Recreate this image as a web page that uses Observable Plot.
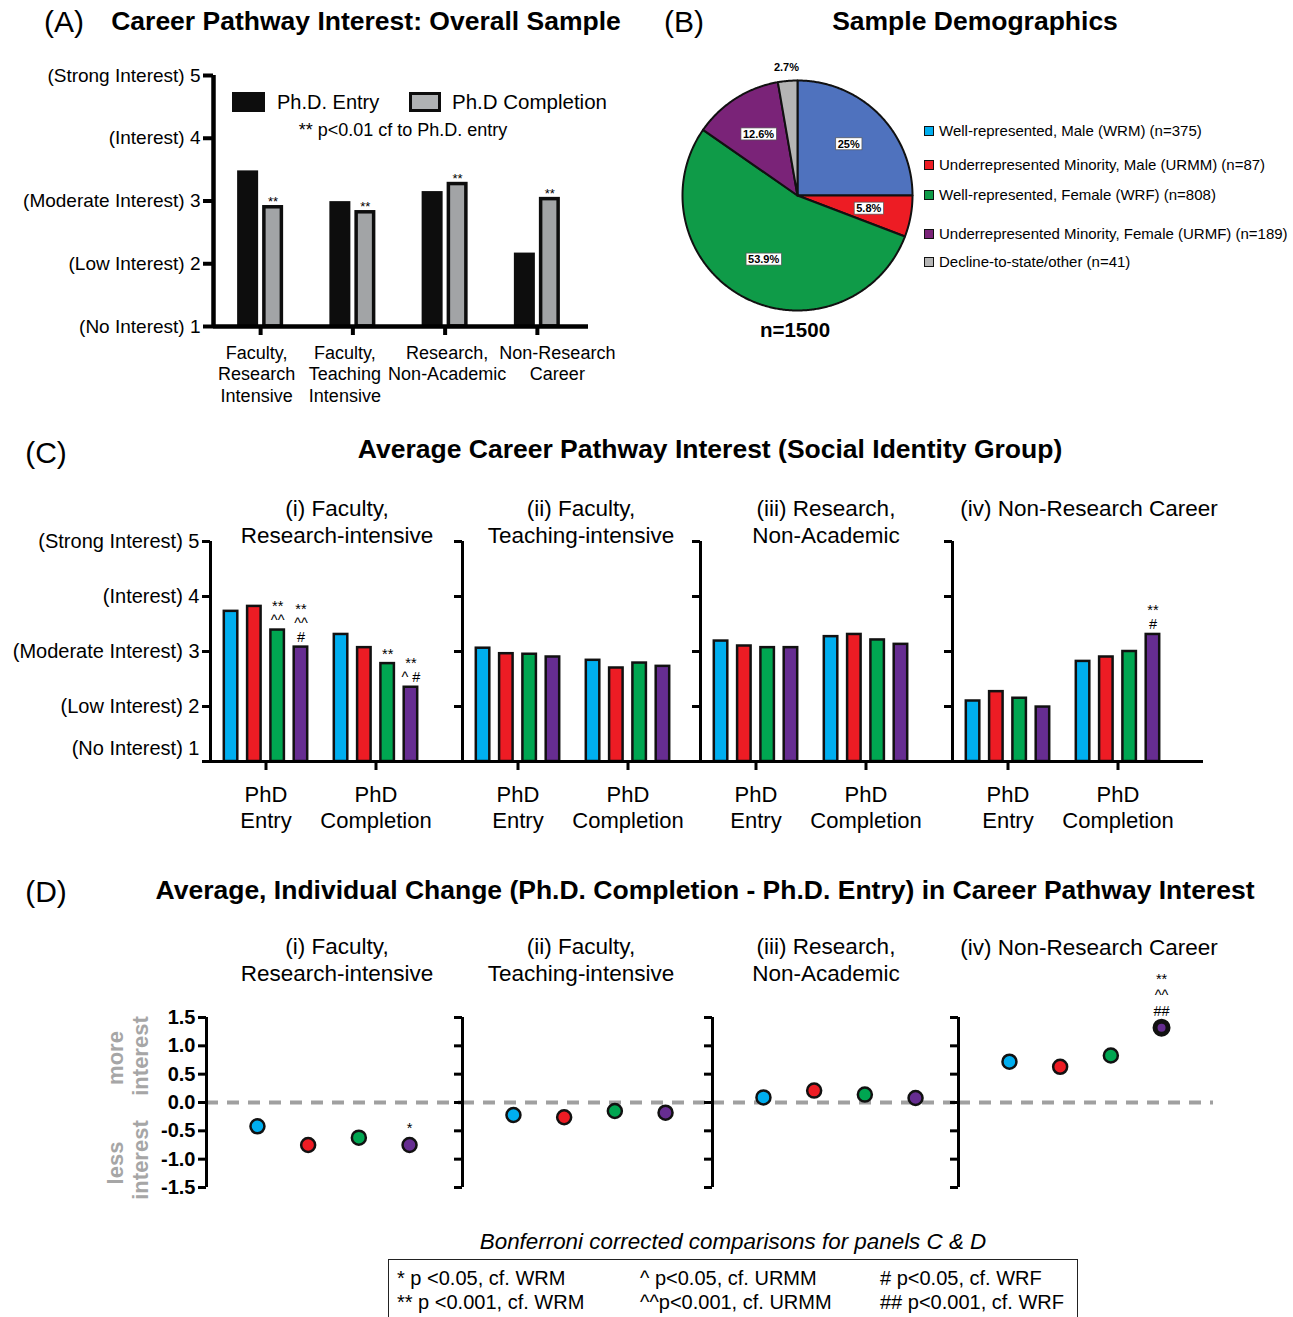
<!DOCTYPE html>
<html><head><meta charset="utf-8">
<script src="https://cdn.jsdelivr.net/npm/d3@7"></script>
<script src="https://cdn.jsdelivr.net/npm/@observablehq/plot@0.6"></script>
<style>
body{margin:0;background:#fff;}
#root{position:relative;width:1293px;height:1317px;overflow:hidden;background:#fff;}
</style></head>
<body><div id="root"></div>
<script>
// ---------------- DATA ----------------
// Panel A: overall sample
const pathways = ["Faculty, Research Intensive", "Faculty, Teaching Intensive", "Research, Non-Academic", "Non-Research Career"];
const pathwayTicks = ["Faculty,\nResearch\nIntensive", "Faculty,\nTeaching\nIntensive", "Research,\nNon-Academic", "Non-Research\nCareer"];
const overallEntry = [3.48, 2.99, 3.15, 2.17];
const overallCompletion = [2.90, 2.82, 3.27, 3.03];
const overallSig = ["**", "**", "**", "**"];
const interestTicks = [1, 2, 3, 4, 5];
const interestLabels = ["(No Interest) 1", "(Low Interest) 2", "(Moderate Interest) 3", "(Interest) 4", "(Strong Interest) 5"];
const seriesLabels = ["Ph.D. Entry", "Ph.D Completion"];
const overallNote = "** p<0.01 cf to Ph.D. entry";

// Panel B: demographics
const demoLabels = ["Well-represented, Male (WRM) (n=375)", "Underrepresented Minority, Male (URMM) (n=87)", "Well-represented, Female (WRF) (n=808)", "Underrepresented Minority, Female (URMF) (n=189)", "Decline-to-state/other (n=41)"];
const demoCounts = [375, 87, 808, 189, 41];
const demoPct = ["25%", "5.8%", "53.9%", "12.6%", "2.7%"];
const demoTotal = "n=1500";

// Panels C & D
const subpanels = ["(i) Faculty,\nResearch-intensive", "(ii) Faculty,\nTeaching-intensive", "(iii) Research,\nNon-Academic", "(iv) Non-Research Career"];
const groups = ["WRM", "URMM", "WRF", "URMF"];
const stages = ["PhD\nEntry", "PhD\nCompletion"];
const entryMeans = [[3.73, 3.82, 3.39, 3.08], [3.06, 2.96, 2.95, 2.90], [3.19, 3.10, 3.07, 3.07], [2.10, 2.27, 2.15, 1.99]];
const completionMeans = [[3.31, 3.07, 2.78, 2.35], [2.84, 2.70, 2.79, 2.73], [3.27, 3.31, 3.21, 3.13], [2.82, 2.90, 3.00, 3.31]];
const entrySig = [["", "", "**\n^^", "**\n^^\n#"], ["", "", "", ""], ["", "", "", ""], ["", "", "", ""]];
const completionSig = [["", "", "**", "**\n^ #"], ["", "", "", ""], ["", "", "", ""], ["", "", "", "**\n#"]];
const changeMeans = [[-0.42, -0.75, -0.62, -0.75], [-0.22, -0.26, -0.15, -0.18], [0.09, 0.21, 0.14, 0.08], [0.72, 0.63, 0.83, 1.32]];
const changeSig = [["", "", "", "*"], ["", "", "", ""], ["", "", "", ""], ["", "", "", "**\n^^\n##"]];
const changeTicks = [-1.5, -1.0, -0.5, 0.0, 0.5, 1.0, 1.5];
const footnoteTitle = "Bonferroni corrected comparisons for panels C & D";
const footnotes = [["* p <0.05, cf. WRM", "** p <0.001, cf. WRM"], ["^ p<0.05, cf. URMM", "^^p<0.001, cf. URMM"], ["# p<0.05, cf. WRF", "## p<0.001, cf. WRF"]];

// ---------------- STYLE / LAYOUT ----------------
const FONT = "'Liberation Sans', Arial, Helvetica, sans-serif";
const groupColors = ["#00aeef", "#ed1c24", "#00a651", "#662d91"];
const pieColors = ["#4f72be", "#ed1c24", "#0f9b48", "#7a2378", "#b5b5b5"];
const swatchColors = ["#00aeef", "#ed1c24", "#0f9b48", "#7a2378", "#b5b5b5"];
const pathwayLabelShift = [-4, -8, 2, 20]; // horizontal nudges of panel A tick labels (px)
const plotStyle = {background: "transparent", overflow: "visible", fontFamily: FONT, color: "black"};

const root = document.getElementById("root");
function put(node, left, top) {
  node.style.position = "absolute"; node.style.left = left + "px"; node.style.top = top + "px";
  root.appendChild(node); return node;
}
function txt(str, x, y, o = {}) {
  const {size = 16, weight = "normal", italic = false, anchor = "middle", color = "black", lh = 1.2, rotate = 0} = o;
  const d = document.createElement("div");
  d.textContent = str;
  d.style.cssText = `position:absolute;left:${x}px;top:${y}px;font-family:${FONT};font-size:${size}px;font-weight:${weight};font-style:${italic ? "italic" : "normal"};color:${color};white-space:pre;line-height:${lh};text-align:${anchor === "middle" ? "center" : anchor === "end" ? "right" : "left"};`;
  const tx = anchor === "middle" ? "-50%" : anchor === "end" ? "-100%" : "0";
  d.style.transform = `translate(${tx},-50%)` + (rotate ? ` rotate(${rotate}deg)` : "");
  root.appendChild(d);
  return d;
}
function box(left, top, w, h, css) {
  const d = document.createElement("div");
  d.style.cssText = `position:absolute;left:${left}px;top:${top}px;width:${w}px;height:${h}px;box-sizing:border-box;${css}`;
  root.appendChild(d);
  return d;
}

// ---------------- PANEL A ----------------
txt("(A)", 64, 22, {size: 30});
txt("Career Pathway Interest: Overall Sample", 366, 22, {size: 26.5, weight: "bold"});
{
  const W = 600, H = 350, mL = 213, mR = 12, mT = 15, mB = 84;
  const r0 = 214, r1 = 583;
  const bw = (r1 - r0) / pathways.length, half = bw / 2;
  const rows = pathways.map((p, i) => ({pathway: p, entry: overallEntry[i], completion: overallCompletion[i], sig: overallSig[i]}));
  const A = Plot.plot({
    width: W, height: H, marginLeft: mL, marginRight: mR, marginTop: mT, marginBottom: mB,
    style: plotStyle,
    x: {type: "band", domain: pathways, range: [r0, r1], padding: 0, round: false, axis: null},
    y: {domain: [1, 5], axis: null},
    marks: [
      Plot.barY(rows, {x: "pathway", y1: 1, y2: "entry", fill: "#0d0d0d", insetLeft: half - 23, insetRight: half + 2}),
      Plot.barY(rows, {x: "pathway", y1: 1, y2: "completion", fill: "#a2a4a6", stroke: "#0d0d0d", strokeWidth: 3.5, insetLeft: half + 3.75, insetRight: half - 21.25}),
      Plot.text(rows, {x: "pathway", y: "completion", text: "sig", dx: 12.5, dy: -1, lineAnchor: "bottom", fontSize: 13}),
      Plot.ruleY([1], {strokeWidth: 4.5}),
      Plot.ruleX([pathways[0]], {y1: 1, y2: 5, strokeWidth: 4.5, dx: mL - (r0 + half)}),
      Plot.axisY({ticks: interestTicks, label: null, tickSize: 10, tickPadding: 3, strokeWidth: 4, fontSize: 19, tickFormat: v => interestLabels[v - 1]}),
      Plot.axisX({label: null, tickSize: 9, strokeWidth: 4, tickFormat: () => ""}),
      ...pathways.map((p, i) => Plot.axisX({ticks: [p], label: null, tickSize: 0, tickPadding: 17, dx: pathwayLabelShift[i], fontSize: 18, lineHeight: 1.2, tickFormat: () => pathwayTicks[i]}))
    ]
  });
  put(A, 0, 60);
  // legend
  box(232, 92, 33, 20, "background:#0d0d0d;");
  txt(seriesLabels[0], 277, 102, {size: 20, anchor: "start"});
  box(409, 92, 32, 20, "background:#b0b2b4;border:3.5px solid #0d0d0d;");
  txt(seriesLabels[1], 452, 102, {size: 20.5, anchor: "start"});
  txt(overallNote, 403, 131, {size: 18});
}

// ---------------- PANEL B ----------------
txt("(B)", 684, 22, {size: 30});
txt("Sample Demographics", 975, 22, {size: 26.5, weight: "bold"});
{
  const total = d3.sum(demoCounts);
  const arcs = d3.pie().sort(null).value(d => d)(demoCounts);
  const polys = arcs.map((a, i) => {
    const n = Math.max(2, Math.ceil((a.endAngle - a.startAngle) / 0.01));
    const pts = [{x: 0, y: 0}];
    for (let s = 0; s <= n; s++) {
      const t = a.startAngle + (a.endAngle - a.startAngle) * s / n;
      pts.push({x: Math.sin(t), y: Math.cos(t)});
    }
    pts.push({x: 0, y: 0});
    return pts;
  });
  const labels = arcs.map((a, i) => {
    const t = (a.startAngle + a.endAngle) / 2;
    const small = demoCounts[i] / total < 0.04;
    const r = small ? 1.12 : 0.63;
    return {x: r * Math.sin(t), y: r * Math.cos(t), text: demoPct[i], small};
  });
  const B = Plot.plot({
    width: 234, height: 234, margin: 2, style: plotStyle,
    x: {domain: [-1, 1], axis: null}, y: {domain: [-1, 1], axis: null},
    marks: [
      ...polys.map((pts, i) => Plot.line(pts, {x: "x", y: "y", fill: pieColors[i], stroke: "#111", strokeWidth: 2, curve: "linear"})),
      Plot.text(labels, {x: "x", y: "y", text: "text", fontSize: 11, fontWeight: "bold", fill: "black"})
    ]
  });
  put(B, 680, 78);
  const boxed = new Set(labels.filter(d => !d.small).map(d => d.text));
  d3.select(B).selectAll("text").each(function () {
    if (!boxed.has(this.textContent)) return;
    const b = this.getBBox();
    const rect = document.createElementNS("http://www.w3.org/2000/svg", "rect");
    rect.setAttribute("x", b.x - 2); rect.setAttribute("y", b.y);
    rect.setAttribute("width", b.width + 4); rect.setAttribute("height", b.height);
    rect.setAttribute("fill", "white"); rect.setAttribute("stroke", "#555"); rect.setAttribute("stroke-width", 0.7);
    const tr = this.getAttribute("transform"); if (tr) rect.setAttribute("transform", tr);
    this.parentNode.insertBefore(rect, this);
  });
  txt(demoTotal, 795, 330, {size: 20.5, weight: "bold"});
  const rowsY = [131, 165, 195, 234, 262];
  demoLabels.forEach((l, i) => {
    box(924, rowsY[i] - 5, 10, 10, `background:${swatchColors[i]};border:1px solid #111;`);
    txt(l, 939, rowsY[i], {size: 15, anchor: "start"});
  });
}

// ---------------- PANEL C ----------------
txt("(C)", 46, 453, {size: 30});
txt("Average Career Pathway Interest (Social Identity Group)", 710, 450, {size: 26.5, weight: "bold"});
const titleX = [337, 581, 826, 1089];
{
  const axes = [210, 462, 700, 952], end = 1203, top = 530;
  subpanels.forEach((name, k) => {
    txt(name, titleX[k], k === 3 ? 508 : 521.5, {size: 22.5, lh: 1.2});
    const a = axes[k];
    const left = k === 0 ? 0 : a - 14;
    const right = k < 3 ? axes[k + 1] : end;
    const r0 = a + 0.5 - left, r1 = a + 220.5 - left;
    const bw = (r1 - r0) / 2;
    const rows = [];
    groups.forEach((g, j) => {
      rows.push({stage: stages[0], j, value: entryMeans[k][j], sig: entrySig[k][j]});
      rows.push({stage: stages[1], j, value: completionMeans[k][j], sig: completionSig[k][j]});
    });
    const barW = 13.5, step = 23.3, span = step * 3 + barW + 2.5;
    const marks = [];
    groups.forEach((g, j) => {
      const il = (bw - span) / 2 + 1.25 + step * j;
      marks.push(Plot.barY(rows.filter(r => r.j === j), {x: "stage", y1: 1, y2: "value", fill: groupColors[j], stroke: "#111", strokeWidth: 2.5, insetLeft: il, insetRight: bw - il - barW}));
      marks.push(Plot.text(rows.filter(r => r.j === j && r.sig), {x: "stage", y: "value", text: "sig", dx: il + barW / 2 - bw / 2, dy: -5, lineAnchor: "bottom", fontSize: 14.5, lineHeight: 0.98}));
    });
    marks.push(Plot.ruleY([1], {strokeWidth: 3}));
    marks.push(Plot.ruleX([stages[0]], {y1: 1, y2: 5, strokeWidth: 3, dx: (a - left) - (r0 + bw / 2)}));
    marks.push(Plot.axisY({ticks: interestTicks, label: null, tickSize: 8, tickPadding: 3, strokeWidth: 3, fontSize: 20,
      tickFormat: k === 0 ? (v => v === 1 ? "" : interestLabels[v - 1]) : (() => "")}));
    if (k === 0) marks.push(Plot.axisY({ticks: [1], label: null, tickSize: 0, tickPadding: 11, dy: -13, fontSize: 20, tickFormat: v => interestLabels[v - 1]}));
    marks.push(Plot.axisX({label: null, tickSize: 9, tickPadding: 12, strokeWidth: 3, fontSize: 22, lineHeight: 1.22}));
    const P = Plot.plot({
      width: right - left, height: 320, marginLeft: a - left, marginRight: 0, marginTop: 11, marginBottom: 89,
      style: plotStyle,
      x: {type: "band", domain: stages, range: [r0, r1], padding: 0, round: false, axis: null},
      y: {domain: [1, 5], axis: null},
      marks
    });
    put(P, left, top);
  });
}

// ---------------- PANEL D ----------------
txt("(D)", 46, 892, {size: 30});
txt("Average, Individual Change (Ph.D. Completion - Ph.D. Entry) in Career Pathway Interest", 705, 891, {size: 26.5, weight: "bold"});
{
  const axes = [206, 462, 712, 958], end = 1213, top = 1000;
  subpanels.forEach((name, k) => {
    txt(name, titleX[k], k === 3 ? 947 : 960, {size: 22.5, lh: 1.2});
    const a = axes[k];
    const left = k === 0 ? 0 : a - 14;
    const right = k < 3 ? axes[k + 1] : end;
    const r0 = a + 25.6 - left, r1 = a + 228.4 - left;
    const bw = (r1 - r0) / groups.length;
    const rows = groups.map((g, j) => ({group: g, value: changeMeans[k][j], sig: changeSig[k][j]}));
    const strong = d => d.sig.includes("##");
    const P = Plot.plot({
      width: right - left, height: 200, marginLeft: a - left, marginRight: 0, marginTop: 17, marginBottom: 13,
      style: plotStyle,
      x: {type: "band", domain: groups, range: [r0, r1], padding: 0, round: false, axis: null},
      y: {domain: [-1.5, 1.5], axis: null},
      color: {type: "ordinal", domain: groups, range: groupColors},
      marks: [
        Plot.ruleY([0], {stroke: "#a0a0a0", strokeWidth: 4, strokeDasharray: "12,9"}),
        Plot.ruleX([groups[0]], {y1: -1.5, y2: 1.5, strokeWidth: 3, dx: (a - left) - (r0 + bw / 2)}),
        Plot.axisY({ticks: changeTicks, label: null, tickSize: 8, tickPadding: 3, strokeWidth: 3, fontSize: 20, fontWeight: "bold",
          tickFormat: k === 0 ? (v => v.toFixed(1)) : (() => "")}),
        Plot.dot(rows.filter(d => !strong(d)), {x: "group", y: "value", fill: "group", r: 7, stroke: "#111", strokeWidth: 2.5}),
        Plot.dot(rows.filter(strong), {x: "group", y: "value", fill: "group", r: 6.5, stroke: "#111", strokeWidth: 5}),
        Plot.text(rows.filter(r => r.sig), {x: "group", y: "value", text: "sig", dy: -12, lineAnchor: "bottom", fontSize: 14.5, lineHeight: 1.08})
      ]
    });
    put(P, left, top);
  });
  txt("more", 116, 1058, {size: 22, weight: "bold", color: "#a6a6a6", rotate: -90});
  txt("interest", 141, 1056, {size: 22, weight: "bold", color: "#a6a6a6", rotate: -90});
  txt("less", 116, 1163, {size: 22, weight: "bold", color: "#a6a6a6", rotate: -90});
  txt("interest", 141, 1160, {size: 22, weight: "bold", color: "#a6a6a6", rotate: -90});
}

// ---------------- FOOTNOTE ----------------
txt(footnoteTitle, 733, 1242, {size: 22.4, italic: true});
box(388, 1259, 690, 64, "border:1.5px solid #222;");
const colX = [397, 640, 880], rowY = [1278, 1302];
footnotes.forEach((col, c) => col.forEach((s, r) => txt(s, colX[c], rowY[r], {size: 20, anchor: "start"})));
</script>
</body></html>
